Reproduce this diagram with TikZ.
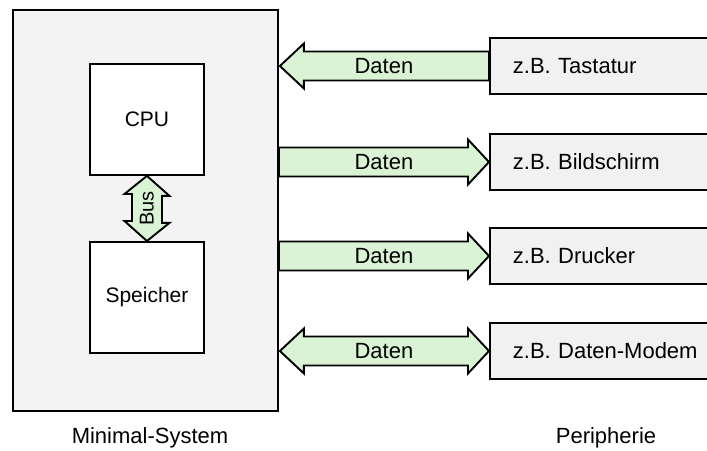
\documentclass[tikz,border=0pt]{standalone}
\usepackage{fontspec}
\setmainfont{Liberation Sans}
\usetikzlibrary{calc}
\definecolor{sysgray}{RGB}{243,243,243}
\definecolor{pgray}{RGB}{241,241,241}
\definecolor{arrgreen}{RGB}{218,243,212}
\begin{document}
\begin{tikzpicture}[x=1pt,y=-1pt,line width=1.9pt,line join=miter,
  txt/.style={font=\fontsize{22}{25}\selectfont},
  frame/.style={draw=black,fill=sysgray,inner sep=0pt},
  unit/.style={draw=black,fill=white,inner sep=0pt,minimum width=114,minimum height=111,font=\fontsize{21}{24}\selectfont},
  pbox/.style={draw=black,fill=pgray,anchor=west,text width=220,inner xsep=23,inner ysep=0pt,minimum height=56,align=left,txt},
  blk/.style={draw=black,fill=arrgreen},
  lbl/.style={txt,inner sep=0pt}]
\useasboundingbox (0,0) rectangle (707,450);
\clip (0,0) rectangle (707,450);
% main system
\node[frame,minimum width=265,minimum height=401,anchor=north west] (sys) at (12,9) {};
\node[unit,anchor=north west] (cpu) at (89,63) {CPU};
\node[unit,anchor=north west] (mem) at (89,241) {Speicher};
% bus
\draw[blk] (cpu.south) -- ++(22.5,20) -- ++(-7.5,0) -- ++(0,27) -- ++(7.5,0)
  -- (mem.north) -- ++(-22.5,-20) -- ++(7.5,0) -- ++(0,-27) -- ++(-7.5,0) -- cycle;
\node[lbl,rotate=90,font=\fontsize{20}{24}\selectfont] (bus) at ($(cpu.south)!0.5!(mem.north)$) {Bus};
% peripherals
\node[pbox] (p1) at (489,66) {z.B. Tastatur};
\node[pbox] (p2) at (489,162) {z.B. Bildschirm};
\node[pbox] (p3) at (489,256) {z.B. Drucker};
\node[pbox] (p4) at (489,351) {z.B. Daten-Modem};
% arrow 1 (to system)
\coordinate (a1) at (sys.east |- p1.west);
\draw[blk] ($(a1)+(1,0)$) -- ++(24,-22.5) -- ++(0,8) -- ($(p1.west)+(0,-14.5)$)
  -- ++(0,29) -- ($(a1)+(25,14.5)$) -- ++(0,8) -- cycle;
\node[lbl] (d1) at ($(a1)!0.5!(p1.west)$) {Daten};
% arrow 2 (to periphery)
\coordinate (a2) at (sys.east |- p2.west);
\draw[blk] (p2.west) -- ++(-21,-22.5) -- ++(0,8) -- ($(a2)+(0,-14.5)$)
  -- ++(0,29) -- ($(p2.west)+(-21,14.5)$) -- ++(0,8) -- cycle;
\node[lbl] (d2) at ($(a2)!0.5!(p2.west)$) {Daten};
% arrow 3 (to periphery)
\coordinate (a3) at (sys.east |- p3.west);
\draw[blk] (p3.west) -- ++(-21,-22.5) -- ++(0,8) -- ($(a3)+(0,-14.5)$)
  -- ++(0,29) -- ($(p3.west)+(-21,14.5)$) -- ++(0,8) -- cycle;
\node[lbl] (d3) at ($(a3)!0.5!(p3.west)$) {Daten};
% arrow 4 (both ways)
\coordinate (a4) at (sys.east |- p4.west);
\draw[blk] ($(a4)+(1,0)$) -- ++(24,-22.5) -- ++(0,8) -- ($(p4.west)+(-21,-14.5)$)
  -- ++(0,-8) -- (p4.west) -- ++(-21,22.5) -- ++(0,-8) -- ($(a4)+(25,14.5)$) -- ++(0,8) -- cycle;
\node[lbl] (d4) at ($(a4)!0.5!(p4.west)$) {Daten};
% captions
\node[lbl] (cap1) at (150,438) {Minimal-System};
\node[lbl] (cap2) at (606,438) {Peripherie};
\end{tikzpicture}
\end{document}
